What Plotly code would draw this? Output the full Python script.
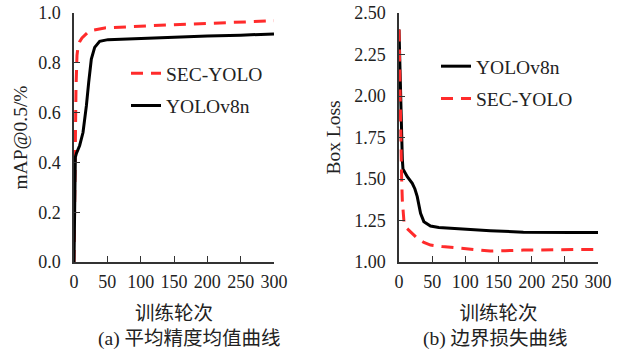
import plotly.graph_objects as go

# ---- data ----
map_sec_x = [0, 1.5, 3, 4.5, 6, 8.5, 12, 16, 20, 26, 35, 46, 60, 80, 106, 150, 200, 250, 300]
map_sec_y = [0, 0.42, 0.70, 0.83, 0.865, 0.885, 0.90, 0.91, 0.92, 0.93, 0.935, 0.94, 0.942, 0.945, 0.949, 0.953, 0.958, 0.964, 0.969]

map_v8_x = [0, 2, 3.6, 8.5, 13.5, 16, 18.6, 22, 26, 31, 38.5, 51, 70, 106, 150, 200, 250, 300]
map_v8_y = [0, 0.42, 0.436, 0.468, 0.52, 0.57, 0.628, 0.72, 0.815, 0.862, 0.886, 0.893, 0.895, 0.897, 0.902, 0.908, 0.911, 0.916]

loss_v8_x = [0, 1, 2, 3, 4, 5, 6, 8, 12.5, 20, 24, 27.5, 30, 32.5, 37.5, 47.5, 60, 77.5, 112.5, 137.5, 187.5, 220, 260, 300]
loss_v8_y = [2.40, 2.20, 2.00, 1.85, 1.72, 1.62, 1.56, 1.545, 1.514, 1.474, 1.44, 1.394, 1.34, 1.293, 1.243, 1.217, 1.208, 1.203, 1.197, 1.189, 1.179, 1.177, 1.177, 1.177]

loss_sec_x = [0, 1, 2, 3, 4, 5, 6, 7.5, 10, 17.5, 27.5, 37.5, 47.5, 65, 87.5, 110, 137.5, 160, 187.5, 240, 300]
loss_sec_y = [2.40, 2.10, 1.85, 1.65, 1.50, 1.373, 1.30, 1.243, 1.21, 1.183, 1.143, 1.118, 1.102, 1.093, 1.086, 1.078, 1.066, 1.068, 1.072, 1.074, 1.076]

x_ticks = [0, 50, 100, 150, 200, 250, 300]
map_ticks = [0.0, 0.2, 0.4, 0.6, 0.8, 1.0]
loss_ticks = [1.00, 1.25, 1.50, 1.75, 2.00, 2.25, 2.50]

x_title = "训练轮次"
map_title = "mAP@0.5/%"
loss_title = "Box Loss"
cap_a = "(a) 平均精度均值曲线"
cap_b = "(b) 边界损失曲线"

RED = "#FF2B2B"
BLACK = "#000000"
FONT = "Liberation Serif, Noto Sans CJK SC, serif"
AXC = "#333333"
TXT = "#222222"

fig = go.Figure()
red_line = dict(color=RED, width=3, dash="12px,8px")
blk_line = dict(color=BLACK, width=3)

fig.add_trace(go.Scatter(x=map_sec_x, y=map_sec_y, mode="lines", name="SEC-YOLO", line=red_line,
                         xaxis="x", yaxis="y", legend="legend", legendgroup="a1"))
fig.add_trace(go.Scatter(x=map_v8_x, y=map_v8_y, mode="lines", name="YOLOv8n", line=blk_line,
                         xaxis="x", yaxis="y", legend="legend", legendgroup="a2"))
fig.add_trace(go.Scatter(x=loss_v8_x, y=loss_v8_y, mode="lines", name="YOLOv8n", line=blk_line,
                         xaxis="x2", yaxis="y2", legend="legend2", legendgroup="b1"))
fig.add_trace(go.Scatter(x=loss_sec_x, y=loss_sec_y, mode="lines", name="SEC-YOLO", line=red_line,
                         xaxis="x2", yaxis="y2", legend="legend2", legendgroup="b2"))

W, H = 623, 350
def px(v): return v / W
def py(v): return (H - v) / H

common_x = dict(range=[0, 300], tickvals=x_ticks, ticks="inside", ticklen=6, tickcolor=AXC,
                showline=True, linecolor=AXC, linewidth=1.5, showgrid=False, zeroline=False,
                automargin=False, ticklabelstandoff=3, ticklabeloverflow="allow",
                tickfont=dict(family=FONT, size=18, color=TXT),
                title=dict(text=x_title, font=dict(family=FONT, size=19.5, color=TXT), standoff=15))
common_y = dict(ticks="inside", ticklen=6, tickcolor=AXC, showline=True, linecolor=AXC, linewidth=1.5,
                showgrid=False, zeroline=False, ticklabelstandoff=8, automargin=False,
                ticklabeloverflow="allow",
                tickfont=dict(family=FONT, size=18, color=TXT))
ydom = [py(262), py(13)]

fig.update_layout(
    width=W, height=H, margin=dict(l=0, r=0, t=0, b=0),
    paper_bgcolor="white", plot_bgcolor="white",
    font=dict(family=FONT, color=TXT),
    xaxis=dict(common_x, domain=[px(74), px(274)], anchor="y"),
    xaxis2=dict(common_x, domain=[px(399), px(598)], anchor="y2"),
    yaxis=dict(common_y, domain=ydom, anchor="x", range=[0, 1], tickvals=map_ticks, tickformat=".1f",
               title=dict(text=map_title, font=dict(family=FONT, size=19.5, color=TXT), standoff=5)),
    yaxis2=dict(common_y, domain=ydom, anchor="x2", range=[1, 2.5], tickvals=loss_ticks, tickformat=".2f",
                title=dict(text=loss_title, font=dict(family=FONT, size=19.5, color=TXT), standoff=8)),
    legend=dict(x=px(126), y=py(54), xanchor="left", yanchor="top", bgcolor="rgba(0,0,0,0)",
                font=dict(family=FONT, size=19.5, color=TXT), traceorder="grouped", tracegroupgap=4),
    legend2=dict(x=px(436), y=py(47), xanchor="left", yanchor="top", bgcolor="rgba(0,0,0,0)",
                 font=dict(family=FONT, size=19.5, color=TXT), traceorder="grouped", tracegroupgap=4),
    showlegend=True,
    annotations=[
        dict(text=cap_a, x=px(189), y=py(339), xref="paper", yref="paper", showarrow=False,
             xanchor="center", yanchor="middle", font=dict(family=FONT, size=19.5, color=TXT)),
        dict(text=cap_b, x=px(495), y=py(339), xref="paper", yref="paper", showarrow=False,
             xanchor="center", yanchor="middle", font=dict(family=FONT, size=19.5, color=TXT)),
    ],
)

fig.write_html("out.html", config={"displayModeBar": False},
               post_script="document.body.style.margin='0';document.body.style.overflow='hidden';")
